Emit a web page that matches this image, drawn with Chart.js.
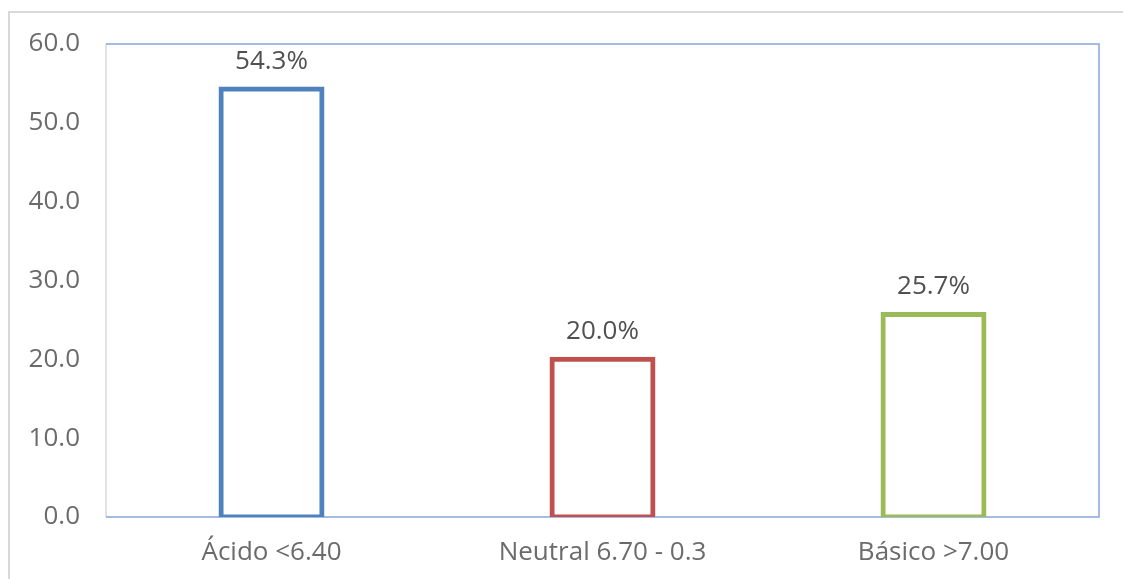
<!DOCTYPE html>
<html>
<head>
<meta charset="utf-8">
<script src="https://cdn.jsdelivr.net/npm/chart.js@4/dist/chart.umd.min.js"></script>
<style>
  html, body { margin: 0; padding: 0; background: #ffffff; overflow: hidden; }
  #frame { position: absolute; left: 8px; top: 11px; width: 1300px; height: 700px;
           border: 2px solid #d9d9d9; box-sizing: border-box; }
  #wrap { position: absolute; left: 0; top: 0; width: 1123px; height: 579px; }
</style>
</head>
<body>
<div id="frame"></div>
<div id="wrap"><canvas id="c" width="1123" height="579"></canvas></div>
<script>
// pH classes and share of samples (%)
const categories = ['Ácido <6.40', 'Neutral 6.70 - 0.3', 'Básico >7.00'];
const percentages = [54.3, 20.0, 25.7];
const barColors = ['#4f81bd', '#c0504d', '#9bbb59'];
const yTicks = [0, 10, 20, 30, 40, 50, 60];

const FONT = '"Open Sans", "DejaVu Sans", sans-serif';
const AXIS_TEXT = '#6b6b6b';
const LABEL_TEXT = '#505050';
const AXIS_BLUE = '#86a6da';

// Plot-area frame: grey left edge, blue top/right/bottom
const frame = {
  id: 'frame',
  beforeDatasetsDraw(chart) {
    const { ctx, chartArea: a } = chart;
    ctx.save();
    ctx.lineWidth = 1.5;
    ctx.strokeStyle = '#d9d9d9';
    ctx.beginPath(); ctx.moveTo(a.left, a.top); ctx.lineTo(a.left, a.bottom); ctx.stroke();
    ctx.strokeStyle = AXIS_BLUE;
    ctx.beginPath();
    ctx.moveTo(a.left, a.top); ctx.lineTo(a.right, a.top);
    ctx.lineTo(a.right, a.bottom); ctx.lineTo(a.left, a.bottom);
    ctx.stroke();
    ctx.restore();
  }
};

// Value labels above each bar
const valueLabels = {
  id: 'valueLabels',
  afterDatasetsDraw(chart) {
    const { ctx } = chart;
    const meta = chart.getDatasetMeta(0);
    ctx.save();
    ctx.font = '26px ' + FONT;
    ctx.fillStyle = LABEL_TEXT;
    ctx.textAlign = 'center';
    ctx.textBaseline = 'alphabetic';
    meta.data.forEach((bar, i) => {
      ctx.fillText(percentages[i].toFixed(1) + '%', bar.x, bar.y - 20);
    });
    ctx.restore();
  }
};

new Chart(document.getElementById('c'), {
  type: 'bar',
  data: {
    labels: categories,
    datasets: [{
      data: percentages,
      // white fill + half-width inflation keeps the outline centred on the bar edges
      backgroundColor: '#ffffff',
      borderColor: barColors,
      borderWidth: 5,
      borderSkipped: false,
      inflateAmount: 2.5,
      barPercentage: 0.305,
      categoryPercentage: 1
    }]
  },
  options: {
    responsive: false,
    animation: false,
    devicePixelRatio: 1,
    layout: { padding: { left: 0, top: 44, right: 24, bottom: 0 } },
    plugins: { legend: { display: false }, tooltip: { enabled: false } },
    scales: {
      x: {
        grid: { display: false, drawTicks: false },
        border: { display: false },
        ticks: { color: AXIS_TEXT, font: { family: FONT, size: 26 }, padding: 20 },
        afterFit(s) { s.height = 62; }
      },
      y: {
        min: 0, max: 60,
        grid: { display: false, drawTicks: false },
        border: { display: false },
        afterBuildTicks(s) { s.ticks = yTicks.map(v => ({ value: v })); },
        ticks: {
          color: AXIS_TEXT, font: { family: FONT, size: 26 }, padding: 26,
          callback: v => Number(v).toFixed(1)
        },
        afterFit(s) { s.width = 106; }
      }
    }
  },
  plugins: [frame, valueLabels]
});
</script>
</body>
</html>
